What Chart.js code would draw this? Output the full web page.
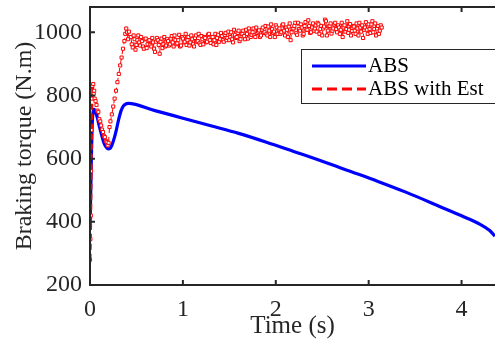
<!DOCTYPE html>
<html>
<head>
<meta charset="utf-8">
<script src="https://cdn.jsdelivr.net/npm/chart.js@4.4.1/dist/chart.umd.min.js"></script>
<style>
  body { margin: 0; background: #fff; }
  #wrap { width: 495px; height: 341px; position: relative; }
</style>
</head>
<body>
<div id="wrap"><canvas id="myChart"></canvas></div>
<script>
// ABS braking torque (blue)
const absTime = [0, 0.008, 0.016, 0.024, 0.032, 0.045, 0.06, 0.08, 0.1, 0.125, 0.15, 0.175, 0.2, 0.215, 0.235, 0.26, 0.285, 0.31, 0.335, 0.36, 0.385, 0.41, 0.7, 1.0, 1.3, 1.6, 1.9, 2.2, 2.5, 2.8, 3.1, 3.4, 3.77, 4.0, 4.2, 4.3, 4.36];
const absTorque = [375, 500, 620, 710, 745, 756, 748, 728, 703, 675, 650, 636, 631, 632, 642, 664, 693, 726, 752, 767, 773, 775, 752, 728, 704, 680, 652, 622, 592, 560, 528, 494, 448, 419, 392, 373, 355];

// ABS with estimator (red), start of the run
const estTime = [0, 0.004, 0.008, 0.012, 0.016, 0.02, 0.025, 0.03, 0.035, 0.04, 0.045, 0.05, 0.06, 0.07, 0.08, 0.09, 0.1, 0.11, 0.12, 0.13, 0.14, 0.15, 0.16, 0.17, 0.18, 0.19, 0.2, 0.21, 0.22, 0.235, 0.25, 0.265, 0.28, 0.295, 0.31, 0.325, 0.34, 0.355, 0.37, 0.38, 0.39, 0.4, 0.41, 0.42];
const estTorque = [280, 345, 420, 560, 690, 790, 830, 812, 836, 805, 815, 790, 782, 770, 752, 748, 725, 718, 705, 692, 684, 672, 668, 656, 652, 642, 650, 700, 718, 740, 765, 790, 815, 842, 868, 895, 920, 948, 972, 995, 1012, 1000, 978, 1002];

// ABS with estimator, noisy part: two interleaved sample sets, every 0.02 s
const bandStep = 0.02;
const bandStartA = 0.44;
const bandTorqueA = [
  985, 952, 978, 960, 990, 958, 972, 948, 980, 962,
  975, 955, 968, 938, 982, 960, 970, 950, 985, 958,
  972, 962, 988, 955, 976, 965, 992, 958, 980, 970,
  960, 985, 968, 978, 955, 990, 972, 965, 988, 962,
  982, 970, 995, 966, 985, 975, 960, 992, 978, 988,
  970, 998, 982, 975, 1000, 968, 992, 985, 1005, 978,
  995, 988, 1008, 980, 1002, 992, 1012, 985, 998, 1006,
  990, 1015, 1000, 995, 1018, 985, 1010, 1002, 1022, 995,
  1012, 1000, 1025, 990, 1008, 1018, 975, 1010, 1020, 998,
  1030, 1005, 1015, 995, 1032, 1008, 1020, 1000, 1028, 1012,
  1002, 1025, 1010, 990, 1018, 1035, 1005, 1020, 996, 1012,
  1030, 1000, 1015, 1008, 985, 1022, 1010, 998, 1026, 1004,
  1018, 995, 1012, 1030, 1002, 982, 1015, 1008, 1025, 998,
  1035, 1010, 990, 1020, 1005, 1015
];
const bandStartB = 0.45;
const bandTorqueB = [
  962, 990, 945, 975, 968, 985, 955, 978, 950, 972,
  960, 982, 948, 970, 975, 932, 980, 962, 955, 978,
  958, 980, 968, 990, 962, 975, 955, 985, 968, 995,
  975, 958, 990, 962, 982, 970, 995, 960, 978, 985,
  968, 992, 975, 985, 962, 995, 982, 970, 998, 975,
  992, 975, 1002, 985, 978, 1008, 982, 998, 972, 995,
  1005, 978, 995, 1012, 985, 1000, 990, 1015, 1002, 985,
  1008, 998, 1020, 990, 1005, 1025, 998, 985, 1015, 1008,
  995, 1022, 1005, 1015, 985, 1028, 1000, 1012, 1030, 992,
  1010, 1025, 990, 1020, 1008, 1038, 998, 1015, 1005, 1022,
  1030, 995, 1020, 1012, 1040, 990, 1018, 1028, 1005, 1025,
  1010, 1022, 995, 1030, 1015, 1002, 1035, 1008, 990, 1020,
  1005, 1028, 990, 1015, 1022, 1008, 1032, 995, 1010, 1025,
  1000, 1028, 1012, 995, 1022
];

const xTicks = [0, 1, 2, 3, 4];
const yTicks = [200, 400, 600, 800, 1000];
const legendLabels = ['ABS', 'ABS with Est'];

const axisColor = '#262626';
const serif = "'Liberation Serif', 'Times New Roman', serif";

const absPoints = absTime.map((t, i) => ({ x: t, y: absTorque[i] }));
const bandA = bandTorqueA.map((v, i) => ({ x: +(bandStartA + i * bandStep).toFixed(3), y: v }));
const bandB = bandTorqueB.map((v, i) => ({ x: +(bandStartB + i * bandStep).toFixed(3), y: v }));
const estPoints = estTime.map((t, i) => ({ x: t, y: estTorque[i] }))
  .concat(bandA, bandB)
  .sort((p, q) => p.x - q.x);

const framePlugin = {
  id: 'frame',
  afterDatasetsDraw(chart) {
    const { ctx, chartArea: a, scales: { x, y } } = chart;
    ctx.save();
    ctx.strokeStyle = axisColor;
    ctx.lineWidth = 2;
    ctx.beginPath();
    ctx.moveTo(a.right, a.top);
    ctx.lineTo(a.left, a.top);
    ctx.lineTo(a.left, a.bottom);
    ctx.lineTo(a.right, a.bottom);
    xTicks.forEach((v) => {
      const px = x.getPixelForValue(v);
      ctx.moveTo(px, a.bottom);
      ctx.lineTo(px, a.bottom - 5);
      ctx.moveTo(px, a.top);
      ctx.lineTo(px, a.top + 5);
    });
    yTicks.forEach((v) => {
      const py = y.getPixelForValue(v);
      ctx.moveTo(a.left, py);
      ctx.lineTo(a.left + 5, py);
    });
    ctx.stroke();

    // legend box
    const lx = 301, ly = 49, lw = 200, lh = 54;
    ctx.fillStyle = '#fff';
    ctx.fillRect(lx, ly, lw, lh);
    ctx.lineWidth = 1;
    ctx.strokeStyle = axisColor;
    ctx.strokeRect(lx + 0.5, ly + 0.5, lw, lh);

    const ds = chart.data.datasets;
    const rows = [{ d: ds[1], y: 66 }, { d: ds[0], y: 89 }];
    rows.forEach((r, i) => {
      ctx.beginPath();
      ctx.strokeStyle = r.d.borderColor;
      ctx.lineWidth = 3;
      ctx.setLineDash(i === 1 ? [10, 5] : []);
      ctx.moveTo(312, r.y);
      ctx.lineTo(366, r.y);
      ctx.stroke();
      ctx.setLineDash([]);
      ctx.fillStyle = '#000';
      ctx.font = '21px ' + serif;
      ctx.textBaseline = 'middle';
      ctx.textAlign = 'left';
      ctx.fillText(legendLabels[i], 368, r.y);
    });
    ctx.restore();
  }
};

const ctx = document.getElementById('myChart');

const myChart = new Chart(ctx, {
  type: 'scatter',
  data: {
    datasets: [{
      label: legendLabels[1],
      data: estPoints,
      showLine: true,
      borderColor: '#ff0000',
      borderWidth: 1,
      borderDash: [6, 4],
      segment: {
        borderWidth: (c) => (c.p0.parsed.x < 0.03 ? 3 : 1)
      },
      pointStyle: 'rect',
      pointRadius: 2.2,
      pointBorderWidth: 1,
      pointBorderColor: '#ff0000',
      pointBackgroundColor: '#ffffff'
    }, {
      label: legendLabels[0],
      data: absPoints,
      showLine: true,
      borderColor: '#0000ff',
      borderWidth: 3.2,
      cubicInterpolationMode: 'monotone',
      pointRadius: 0
    }]
  },
  options: {
    responsive: true,
    maintainAspectRatio: false,
    animation: false,
    layout: { autoPadding: false, padding: { top: 7, right: 0, left: 0, bottom: 0 } },
    plugins: {
      legend: { display: false },
      tooltip: { enabled: false }
    },
    scales: {
      x: {
        type: 'linear',
        min: 0,
        max: 4.36,
        afterFit: (s) => { s.height = 56; s.paddingLeft = 0; s.paddingRight = 0; },
        grid: { display: false, drawTicks: false },
        border: { display: false },
        ticks: {
          stepSize: 1,
          includeBounds: false,
          padding: 10,
          color: axisColor,
          font: { family: serif, size: 24 },
          maxRotation: 0
        },
        title: {
          display: true,
          text: 'Time (s)',
          color: axisColor,
          font: { family: serif, size: 25 },
          padding: { top: 0, bottom: 0 }
        }
      },
      y: {
        min: 200,
        max: 1080,
        afterFit: (s) => { s.width = 90; s.paddingTop = 0; s.paddingBottom = 0; },
        grid: { display: false, drawTicks: false },
        border: { display: false },
        ticks: {
          stepSize: 200,
          includeBounds: false,
          padding: 8,
          color: axisColor,
          font: { family: serif, size: 24 },
          callback: (v) => String(v)
        },
        title: {
          display: true,
          text: 'Braking torque (N.m)',
          color: axisColor,
          font: { family: serif, size: 24 },
          padding: { top: 10, bottom: 0 }
        }
      }
    }
  },
  plugins: [framePlugin]
});
</script>
</body>
</html>
